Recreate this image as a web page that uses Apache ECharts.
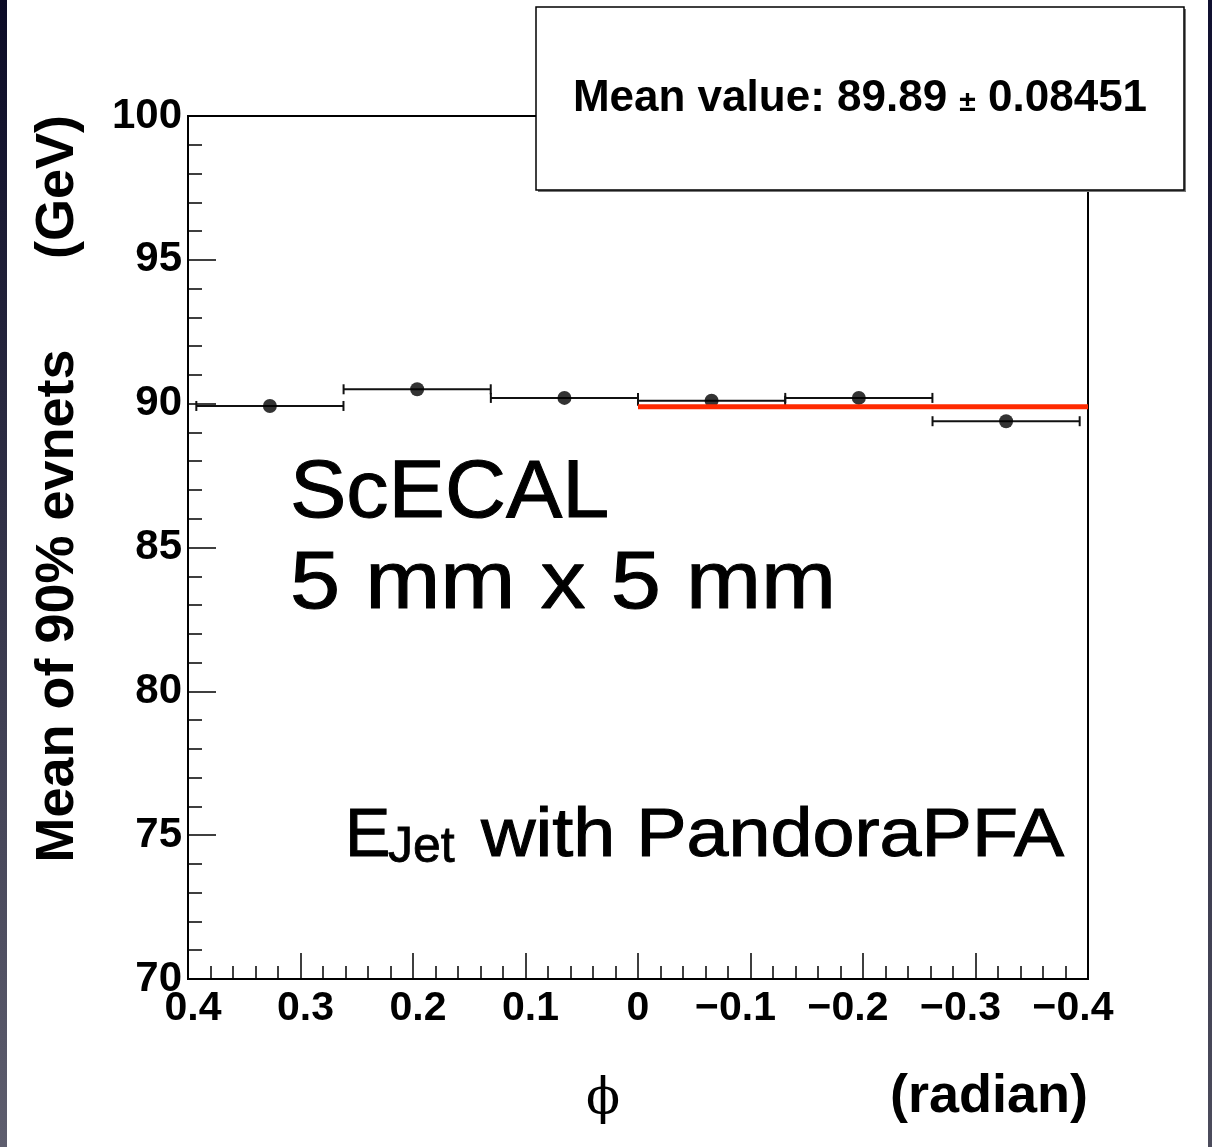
<!DOCTYPE html>
<html><head><meta charset="utf-8">
<script src="https://cdn.jsdelivr.net/npm/echarts@6/dist/echarts.min.js"></script>
<style>html,body{margin:0;padding:0;background:#fff}#c{width:1212px;height:1147px}</style>
</head><body><div id="c"></div>
<script>
// ---- data ----
const phiCenters = [0.3272, 0.1963, 0.0654, -0.0654, -0.1963, -0.3272];
const phiHalfWidths = [0.0654, 0.0654, 0.0654, 0.0654, 0.0654, 0.0654];
const meanValues = [89.92, 90.50, 90.20, 90.10, 90.20, 89.39];
const fitRange = [0, -0.4];
const fitMean = 89.89;
const fitError = 0.08451;
const xTickValues = [0.4, 0.3, 0.2, 0.1, 0, -0.1, -0.2, -0.3, -0.4];
const xTickLabels = ['0.4', '0.3', '0.2', '0.1', '0', '\u22120.1', '\u22120.2', '\u22120.3', '\u22120.4'];
const yTickValues = [70, 75, 80, 85, 90, 95, 100];
const yTickLabels = ['70', '75', '80', '85', '90', '95', '100'];

const chart = echarts.init(document.getElementById('c'), null, {renderer: 'canvas'});
const F = 'Liberation Sans, Helvetica, Arial, sans-serif';

const pointData = phiCenters.map((x, i) => [x, meanValues[i], phiHalfWidths[i]]);

function xFmt(v) {
  const i = xTickValues.findIndex(t => Math.abs(t - v) < 1e-6);
  if (i < 0) return '';
  if (v < -1e-9) return xTickLabels[i] + '{p| }';
  if (v > 1e-9) return '{q| }' + xTickLabels[i];
  return xTickLabels[i];
}
function yFmt(v) {
  const i = yTickValues.findIndex(t => Math.abs(t - v) < 1e-6);
  return i < 0 ? '' : yTickLabels[i];
}

const option = {
  backgroundColor: '#ffffff',
  animation: false,
  grid: {left: 188, top: 116, width: 900, height: 863, show: true, borderColor: '#000', borderWidth: 2, backgroundColor: 'transparent'},
  xAxis: {
    type: 'value', inverse: true, min: -0.4, max: 0.4, interval: 0.1,
    axisLine: {show: true, onZero: false, lineStyle: {color: '#000', width: 2}},
    axisTick: {show: true, inside: true, length: 26, lineStyle: {color: '#000', width: 1.5}},
    minorTick: {show: true, splitNumber: 5, length: 13, lineStyle: {color: '#000', width: 1.5}},
    splitLine: {show: false},
    axisLabel: {
      show: true, showMinLabel: true, showMaxLabel: true, margin: 9,
      fontFamily: F, fontWeight: 'bold', fontSize: 41, color: '#000',
      formatter: xFmt,
      rich: {p: {width: 30, fontSize: 41}, q: {width: 10, fontSize: 41}}
    }
  },
  yAxis: {
    type: 'value', min: 70, max: 100, interval: 5,
    axisLine: {show: true, onZero: false, lineStyle: {color: '#000', width: 2}},
    axisTick: {show: true, inside: true, length: 28, lineStyle: {color: '#000', width: 1.5}},
    minorTick: {show: true, splitNumber: 5, length: 14, lineStyle: {color: '#000', width: 1.5}},
    splitLine: {show: false},
    axisLabel: {
      show: true, showMinLabel: true, showMaxLabel: true, margin: 6,
      fontFamily: F, fontWeight: 'bold', fontSize: 42, color: '#000',
      formatter: yFmt
    }
  },
  series: [
    {
      type: 'custom', z: 3,
      data: pointData,
      renderItem: function (params, api) {
        const x = api.value(0), y = api.value(1), ex = api.value(2);
        const a = api.coord([x + ex, y]);
        const b = api.coord([x - ex, y]);
        const st = {stroke: '#111', lineWidth: 2};
        return {type: 'group', children: [
          {type: 'line', shape: {x1: a[0], y1: a[1], x2: b[0], y2: b[1]}, style: st},
          {type: 'line', shape: {x1: a[0], y1: a[1] - 5, x2: a[0], y2: a[1] + 5}, style: st},
          {type: 'line', shape: {x1: b[0], y1: b[1] - 5, x2: b[0], y2: b[1] + 5}, style: st}
        ]};
      }
    },
    {
      type: 'scatter', z: 4,
      data: pointData.map(d => [d[0], d[1]]),
      symbol: 'circle', symbolSize: 14,
      itemStyle: {color: '#000'}
    },
    {
      type: 'line', z: 5,
      data: [[fitRange[0], fitMean], [fitRange[1], fitMean]],
      showSymbol: false, symbol: 'none',
      lineStyle: {color: '#ff2a00', width: 5}
    }
  ],
  graphic: [
    {type: 'rect', z: 50, shape: {x: 0, y: 0, width: 7, height: 1147},
      style: {fill: new echarts.graphic.LinearGradient(0, 0, 0, 1, [{offset: 0, color: '#0b0b26'}, {offset: 1, color: '#5e5e6e'}])}},
    {type: 'rect', z: 50, shape: {x: 1208, y: 0, width: 4, height: 1147},
      style: {fill: new echarts.graphic.LinearGradient(0, 0, 0, 1, [{offset: 0, color: '#101030'}, {offset: 1, color: '#4c4c5c'}])}},
    {type: 'rect', z: 99, shape: {x: 538, y: 9, width: 648, height: 183}, style: {fill: '#777'}},
    {type: 'rect', z: 100, shape: {x: 536, y: 7, width: 648, height: 183}, style: {fill: '#fff', stroke: '#000', lineWidth: 1.5}},
    {type: 'text', z: 101, x: 860, y: 99,
      style: {text: 'Mean value: ' + fitMean.toFixed(2) + ' {pm|\u00b1} ' + fitError,
        font: 'bold 44px ' + F, fill: '#000', align: 'center', verticalAlign: 'middle', textAlign: 'center', textVerticalAlign: 'middle',
        rich: {pm: {fontSize: 30, fontWeight: 'bold', fontFamily: F, fill: '#000', padding: [8, 0, 0, 0]}}}},
    // y-axis title
    {type: 'text', z: 60, x: 58, y: 606, rotation: Math.PI / 2,
      style: {text: 'Mean of 90% evnets', font: 'bold 54px ' + F, fill: '#000', align: 'center', verticalAlign: 'middle', textAlign: 'center', textVerticalAlign: 'middle'}},
    {type: 'text', z: 60, x: 58, y: 187, rotation: Math.PI / 2,
      style: {text: '(GeV)', font: 'bold 54px ' + F, fill: '#000', align: 'center', verticalAlign: 'middle', textAlign: 'center', textVerticalAlign: 'middle'}},
    // x-axis title
    {type: 'text', z: 60, x: 603, y: 1100,
      style: {text: '\u03d5', font: '50px DejaVu Serif, Liberation Serif, serif', fill: '#000', align: 'center', verticalAlign: 'middle', textAlign: 'center', textVerticalAlign: 'middle'}},
    {type: 'text', z: 60, x: 989, y: 1097,
      style: {text: '(radian)', font: 'bold 54px ' + F, fill: '#000', align: 'center', verticalAlign: 'middle', textAlign: 'center', textVerticalAlign: 'middle'}},
    // annotations
    {type: 'text', z: 60, x: 290, y: 494, scaleX: 1.03,
      style: {text: 'ScECAL', font: '82px ' + F, fill: '#000', stroke: '#000', lineWidth: 1, align: 'left', verticalAlign: 'middle', textAlign: 'left', textVerticalAlign: 'middle'}},
    {type: 'text', z: 60, x: 290, y: 585, scaleX: 1.1,
      style: {text: '5 mm x 5 mm', font: '82px ' + F, fill: '#000', stroke: '#000', lineWidth: 1, align: 'left', verticalAlign: 'middle', textAlign: 'left', textVerticalAlign: 'middle'}},
    {type: 'text', z: 60, x: 345, y: 837,
      style: {text: 'E', font: '68px ' + F, fill: '#000', stroke: '#000', lineWidth: 1, align: 'left', verticalAlign: 'middle', textAlign: 'left', textVerticalAlign: 'middle'}},
    {type: 'text', z: 60, x: 388, y: 848,
      style: {text: 'Jet', font: '50px ' + F, fill: '#000', stroke: '#000', lineWidth: 0.8, align: 'left', verticalAlign: 'middle', textAlign: 'left', textVerticalAlign: 'middle'}},
    {type: 'text', z: 60, x: 481, y: 837, scaleX: 1.11,
      style: {text: 'with PandoraPFA', font: '68px ' + F, fill: '#000', stroke: '#000', lineWidth: 1, align: 'left', verticalAlign: 'middle', textAlign: 'left', textVerticalAlign: 'middle'}}
  ]
};
chart.setOption(option);
</script>
</body></html>
